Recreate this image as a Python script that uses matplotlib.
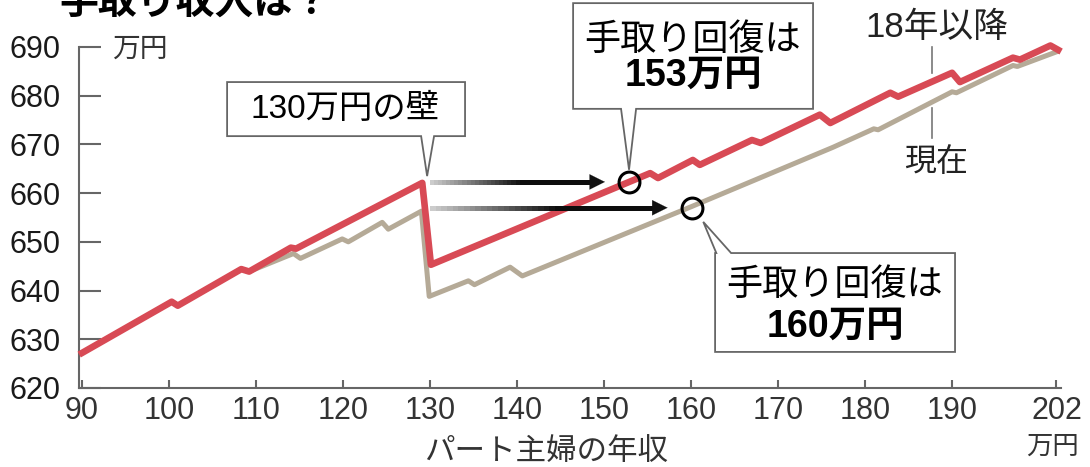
import matplotlib
matplotlib.use("Agg")
import matplotlib.pyplot as plt
import numpy as np
from matplotlib.collections import LineCollection
from matplotlib.patches import Polygon

plt.rcParams["font.family"] = ["Liberation Sans", "Noto Sans CJK JP", "DejaVu Sans"]
JP = ["Liberation Sans", "Noto Sans CJK JP", "DejaVu Sans"]

# 18年以降 (red)
NEW_X = [90, 100.3, 101.0, 108.3, 109.2, 114.0, 114.6, 129.1, 130.1, 155.3, 156.2,
         160.2, 161.0, 167.0, 168.0, 174.8, 176.0, 182.9, 183.8, 190.0, 190.9,
         197.0, 197.8, 201.3, 202.2]
NEW_Y = [627.2, 637.7, 636.9, 644.4, 643.9, 648.8, 648.6, 662.1, 645.3, 664.1, 663.1,
         666.8, 665.8, 670.9, 670.3, 676.1, 674.4, 680.6, 679.8, 684.7, 682.8,
         687.8, 687.4, 690.3, 689.4]

# 現在 (beige)
CUR_X = [90, 100.3, 101.0, 108.3, 109.2, 114.3, 115.1, 119.9, 120.6, 124.5, 125.2,
         129.0, 129.9, 134.4, 135.1, 139.2, 140.6, 160.0, 176.3, 181.0, 181.5,
         190.0, 190.5, 197.0, 197.5, 202.0]
CUR_Y = [627.2, 637.7, 636.9, 644.4, 643.9, 647.6, 646.6, 650.6, 650.0, 654.0, 652.6,
         656.3, 638.8, 642.0, 641.2, 644.8, 643.0, 657.2, 669.4, 673.2, 673.0,
         680.8, 680.6, 686.2, 686.0, 689.0]

WALL_X = 130.2
RECOVER_X = [152.9, 160.1]
RECOVER_Y = [662.3, 657.0]
ARROW_GAP = 2.8

X_TICKS = [90, 100, 110, 120, 130, 140, 150, 160, 170, 180, 190, 202]
Y_TICKS = [620, 630, 640, 650, 660, 670, 680, 690]

RED = "#d84a55"
BEIGE = "#b5aa97"
GRAY = "#666666"


def callout(ax, x0, x1, y0, y1, b1, b2, tip, side):
    if side == "bottom":
        pts = [(x0, y1), (x1, y1), (x1, y0), (b2, y0), tip, (b1, y0), (x0, y0)]
    else:
        pts = [(x0, y0), (x0, y1), (b1, y1), tip, (b2, y1), (x1, y1), (x1, y0)]
    ax.add_patch(Polygon(pts, closed=True, facecolor="white", edgecolor=GRAY,
                         lw=1.3, clip_on=False, zorder=5))


def gradient_arrow(ax, x0, x1, y):
    # shaft fades from light grey to black, then a solid head
    head = 1.8
    xs = np.linspace(x0, x1 - head + 0.2, 40)
    segs = [[(xs[i], y), (xs[i + 1], y)] for i in range(len(xs) - 1)]
    t = np.linspace(0, 1, len(segs))
    shade = np.clip(0.8 - 1.3 * t, 0.05, 1)
    cols = [(s, s, s) for s in shade]
    ax.add_collection(LineCollection(segs, colors=cols, lw=3.6, zorder=6,
                                     capstyle="projecting", antialiased=False))
    ax.annotate("", xy=(x1, y), xytext=(x1 - head, y),
                arrowprops=dict(arrowstyle="-|>,head_length=1.1,head_width=0.55",
                                color="#111111", lw=0.1, shrinkA=0, shrinkB=0), zorder=7)


fig = plt.figure(figsize=(10.9, 4.67), dpi=100)
ax = fig.add_axes([0.0725, 0.1692, 0.9009, 0.7302])
ax.set_xlim(89.65, 202.52)
ax.set_ylim(620, 690)

ax.plot(CUR_X, CUR_Y, color=BEIGE, lw=3.6, zorder=3, clip_on=False)
ax.plot(NEW_X, NEW_Y, color=RED, lw=4.8, zorder=4, clip_on=False)

for spine in ["top", "right"]:
    ax.spines[spine].set_visible(False)
for spine in ["left", "bottom"]:
    ax.spines[spine].set_color(GRAY)
    ax.spines[spine].set_linewidth(1.5)

ax.set_xticks(X_TICKS)
ax.set_yticks(Y_TICKS)
ax.tick_params(axis="y", direction="in", length=16, width=1.5, color=GRAY,
               pad=13, labelsize=22, labelcolor="#1a1a1a")
ax.tick_params(axis="x", direction="in", length=6, width=1.5, color=GRAY,
               pad=6, labelsize=22, labelcolor="#333333")

# arrows and circles
for rx, ry in zip(RECOVER_X, RECOVER_Y):
    gradient_arrow(ax, WALL_X, rx - ARROW_GAP, ry)
ax.plot(RECOVER_X, RECOVER_Y, "o", ms=15, mfc="none", mec="black", mew=2.2, zorder=8)

# callouts
callout(ax, 106.67, 134.02, 671.7, 682.8, 128.97, 130.46, (129.66, 663.5), "bottom")
ax.text(120.2, 677.2, "130万円の壁", family=JP, fontsize=24, ha="center", va="center", zorder=6)

callout(ax, 146.44, 174.02, 677.3, 699.0, 151.95, 153.68, (152.87, 664.8), "bottom")
ax.text(160.23, 691.4, "手取り回復は", family=JP, fontsize=26, ha="center", va="center", zorder=6)
ax.text(160.23, 684.0, "153万円", family=JP, fontsize=27, weight="bold", ha="center", va="center", zorder=6)

callout(ax, 162.76, 190.34, 627.4, 647.7, 162.9, 164.6, (161.4, 654.1), "top")
ax.text(176.55, 641.1, "手取り回復は", family=JP, fontsize=26, ha="center", va="center", zorder=6)
ax.text(176.55, 632.6, "160万円", family=JP, fontsize=27, weight="bold", ha="center", va="center", zorder=6)

# series labels
ax.plot([187.7, 187.7], [690.0, 684.7], color="#777777", lw=1.2, clip_on=False)
ax.plot([187.7, 187.7], [677.5, 671.3], color="#777777", lw=1.2, clip_on=False)
ax.text(188.3, 694.0, "18年以降", family=JP, fontsize=25, ha="center", va="center", color="#222222")
ax.text(188.2, 666.2, "現在", family=JP, fontsize=23, ha="center", va="center", color="#222222")

# units and axis label
ax.text(96.6, 689.4, "万円", family=JP, fontsize=20, ha="center", va="center", color="#333333")
ax.text(201.5, 608.0, "万円", family=JP, fontsize=19, ha="center", va="center", color="#333333", clip_on=False)
ax.text(143.3, 606.9, "パート主婦の年収", family=JP, fontsize=22, ha="center", va="center", color="#333333")

fig.text(0.179, 0.993, "手取り収入は？", family=JP, fontsize=28, weight="bold", ha="center", va="center")

fig.savefig("out.png", dpi=100, facecolor="white")
